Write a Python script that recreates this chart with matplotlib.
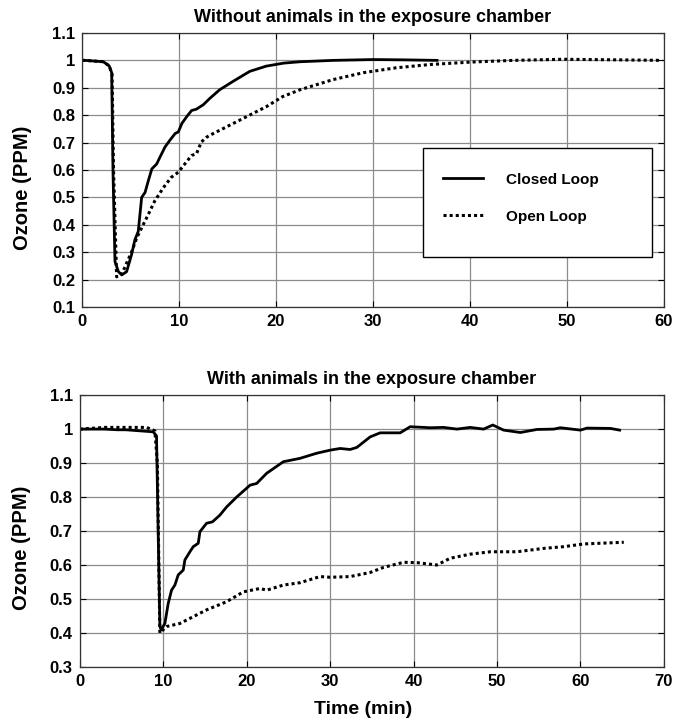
import matplotlib
matplotlib.use("Agg")
import matplotlib.pyplot as plt
from matplotlib.patches import Rectangle

plt.rcParams['font.family'] = ['Liberation Sans', 'DejaVu Sans']
plt.rcParams['font.weight'] = 'bold'

# Without animals in the exposure chamber
t_closed1 = [0, 0.3, 2.2, 2.8, 3.06, 3.2, 3.4, 3.75, 4.1, 4.6, 5.1, 5.46, 5.8, 6.15, 6.5,
             6.84, 7.2, 7.7, 8.04, 8.56, 9.07, 9.6, 9.93, 10.3, 10.8, 11.3, 11.8, 12.5,
             13.2, 14.2, 15.6, 17.3, 19.0, 20.8, 22.5, 25.9, 30.0, 33.0, 36.6]
v_closed1 = [1.0, 1.0, 0.995, 0.98, 0.955, 0.586, 0.266, 0.229, 0.217, 0.229, 0.29, 0.346,
             0.376, 0.5, 0.518, 0.561, 0.604, 0.622, 0.647, 0.684, 0.709, 0.733, 0.739,
             0.77, 0.795, 0.817, 0.822, 0.838, 0.862, 0.893, 0.924, 0.96, 0.979, 0.99,
             0.995, 1.0, 1.003, 1.002, 1.0]

t_open1 = [0, 0.3, 2.2, 2.8, 3.1, 3.25, 3.57, 4.1, 4.6, 5.1, 5.64, 6.15, 6.84, 7.5, 8.4,
           9.2, 9.93, 10.6, 11.3, 11.8, 12.3, 12.86, 13.2, 15.6, 19.0, 20.7, 22.5, 25.9,
           29.0, 32.4, 35.9, 40.2, 44.5, 49.6, 55.0, 59.8]
v_open1 = [1.0, 1.0, 0.995, 0.98, 0.95, 0.6, 0.21, 0.22, 0.26, 0.30, 0.352, 0.389, 0.438,
           0.487, 0.536, 0.573, 0.592, 0.622, 0.653, 0.659, 0.702, 0.72, 0.727, 0.77,
           0.831, 0.868, 0.893, 0.93, 0.955, 0.973, 0.985, 0.994, 1.0, 1.004, 1.002, 1.0]

# With animals in the exposure chamber
t_closed2 = [0, 3.0, 4.5, 5.5, 8.8, 9.2, 9.4, 9.6, 9.75, 10.2, 10.6, 11.0, 11.4, 11.8,
             12.4, 12.6, 13.2, 13.6, 14.2, 14.4, 15.2, 15.9, 16.8, 17.6, 18.8, 20.0,
             20.4, 21.2, 22.4, 24.4, 26.4, 28.4, 30.0, 31.2, 32.4, 33.2, 34.8, 36.0,
             38.4, 39.6, 42.0, 43.6, 45.2, 46.8, 48.4, 49.5, 50.8, 52.8, 54.8, 56.8,
             57.6, 60.0, 60.8, 63.6, 64.7]
v_closed2 = [1.0, 1.0, 0.998, 0.998, 0.992, 0.98, 0.694, 0.42, 0.409, 0.428, 0.487, 0.526,
             0.541, 0.571, 0.585, 0.615, 0.639, 0.654, 0.664, 0.698, 0.723, 0.727, 0.747,
             0.771, 0.80, 0.826, 0.835, 0.84, 0.87, 0.904, 0.914, 0.929, 0.938, 0.943,
             0.94, 0.946, 0.977, 0.989, 0.989, 1.007, 1.004, 1.005, 1.0, 1.005, 1.0,
             1.012, 0.997, 0.99, 0.999, 1.0, 1.004, 0.997, 1.003, 1.002, 0.997]

t_open2 = [0, 3.0, 8.0, 9.0, 9.3, 9.6, 10.4, 12.0, 13.6, 15.2, 17.6, 19.6, 21.6, 22.4,
           24.4, 26.4, 28.8, 30.0, 32.4, 34.8, 36.4, 38.8, 40.4, 42.8, 44.4, 46.8, 49.2,
           52.4, 55.6, 58.0, 60.4, 65.2]
v_open2 = [1.0, 1.005, 1.005, 0.995, 0.9, 0.40, 0.419, 0.428, 0.448, 0.468, 0.492, 0.521,
           0.531, 0.526, 0.541, 0.548, 0.566, 0.564, 0.566, 0.578, 0.593, 0.608, 0.607,
           0.60, 0.62, 0.632, 0.639, 0.639, 0.649, 0.654, 0.662, 0.667]

yticks1 = [0.1, 0.2, 0.3, 0.4, 0.5, 0.6, 0.7, 0.8, 0.9, 1.0, 1.1]
ylabels1 = ['0.1', '0.2', '0.3', '0.4', '0.5', '0.6', '0.7', '0.8', '0.9', '1', '1.1']
yticks2 = [0.3, 0.4, 0.5, 0.6, 0.7, 0.8, 0.9, 1.0, 1.1]
ylabels2 = ['0.3', '0.4', '0.5', '0.6', '0.7', '0.8', '0.9', '1', '1.1']


def style(ax, xmax, yticks, ylabels, title):
    ax.set_xlim(0, xmax)
    ax.set_ylim(yticks[0], yticks[-1])
    ax.set_yticks(yticks)
    ax.set_yticklabels(ylabels)
    ax.set_xticks(range(0, xmax + 1, 10))
    ax.grid(True, color='#8c8c8c', linewidth=0.9)
    ax.tick_params(direction='in', length=4, labelsize=12, pad=5,
                   top=True, right=True)
    for s in ax.spines.values():
        s.set_linewidth(0.9)
        s.set_color('#333333')
    ax.set_ylabel('Ozone (PPM)', fontsize=14.5, fontweight='bold')
    ax.set_title(title, fontsize=13, fontweight='bold', pad=8)


fig = plt.figure(figsize=(6.76, 7.23), dpi=100)

ax1 = fig.add_axes([0.1213, 0.5754, 0.861, 0.379])
l1, = ax1.plot(t_closed1, v_closed1, color='black', lw=2.0, label='Closed Loop')
l2, = ax1.plot(t_open1, v_open1, color='black', lw=2.2, ls=(0, (1, 1)), label='Open Loop')
style(ax1, 60, yticks1, ylabels1, 'Without animals in the exposure chamber')
ax1.yaxis.set_label_coords(-0.086, 0.435)

# legend frame
ax1.add_patch(Rectangle((0.586, 0.183), 0.394, 0.396, transform=ax1.transAxes,
                        facecolor='white', edgecolor='black', lw=1.0, zorder=4))
leg = ax1.legend(frameon=False, loc='upper left', bbox_to_anchor=(0.62, 0.49),
                 fontsize=11, handlelength=2.6, handletextpad=1.5, labelspacing=1.5,
                 borderaxespad=0, borderpad=0)
leg.set_zorder(5)

ax2 = fig.add_axes([0.118, 0.0775, 0.864, 0.376])
ax2.plot(t_closed2, v_closed2, color='black', lw=2.0)
ax2.plot(t_open2, v_open2, color='black', lw=2.2, ls=(0, (1, 1)))
style(ax2, 70, yticks2, ylabels2, 'With animals in the exposure chamber')
ax2.yaxis.set_label_coords(-0.083, 0.44)
ax2.set_xlabel('Time (min)', fontsize=14, fontweight='bold')
ax2.xaxis.set_label_coords(0.485, -0.125)

fig.savefig('out.png', dpi=100)
